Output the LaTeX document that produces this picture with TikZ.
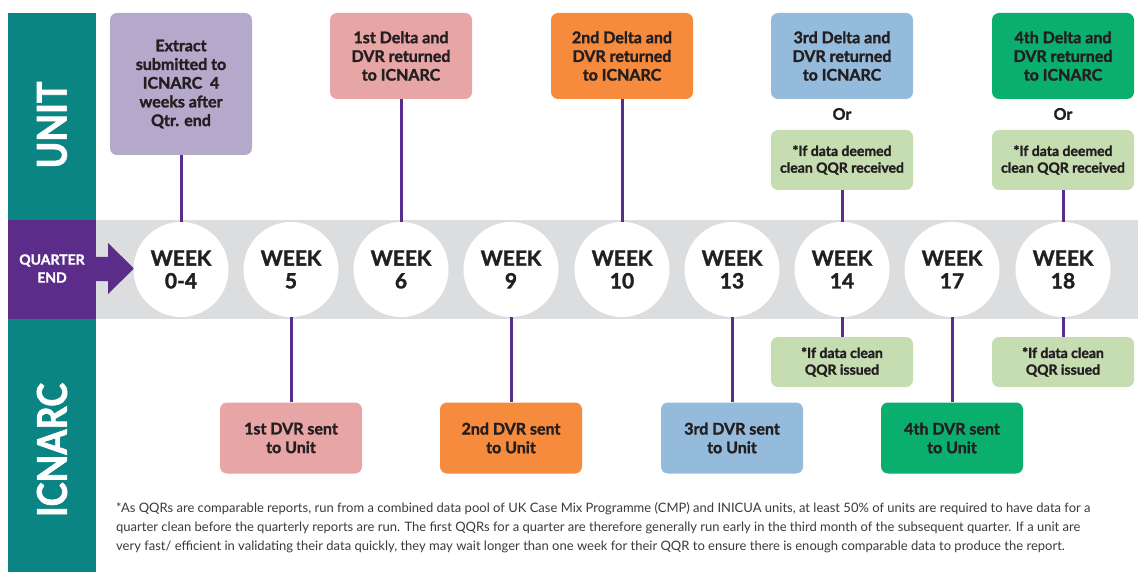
\documentclass[tikz,border=0pt]{standalone}
\usepackage{fontspec}
\setmainfont{Lato}[BoldFeatures={FakeBold=1.6}]
\newfontfamily\footfont{Lato}
\newfontfamily\sidefont[FakeStretch=0.88,BoldFeatures={FakeBold=1.6}]{Lato}
\definecolor{cteal}{HTML}{0A8583}
\definecolor{cpurple}{HTML}{5B2C89}
\definecolor{cgray}{HTML}{DCDDDE}
\definecolor{ctext}{HTML}{231F20}
\definecolor{clav}{HTML}{B4A8CB}
\definecolor{cpink}{HTML}{E8A5A5}
\definecolor{corange}{HTML}{F68B3D}
\definecolor{cblue}{HTML}{94BBDB}
\definecolor{cgreen}{HTML}{0BAF6D}
\definecolor{clgreen}{HTML}{C6DDB1}
\definecolor{cfoot}{HTML}{3A3A3A}
\begin{document}
\begin{tikzpicture}[x=1pt,y=-1pt,
  week/.style={circle,fill=white,minimum size=95pt,inner sep=0pt,align=center,text=ctext,
    font=\bfseries\fontsize{21}{22.7}\selectfont},
  bigbox/.style={rounded corners=7pt,inner sep=0pt,minimum width=142pt,align=center,text=ctext,
    font=\bfseries\fontsize{16}{18.7}\selectfont},
  smallbox/.style={rounded corners=7pt,inner sep=0pt,minimum width=142pt,align=center,text=ctext,fill=clgreen,
    font=\bfseries\fontsize{14}{16.7}\selectfont},
  conn/.style={draw=cpurple,line width=3pt},
  sidelabel/.style={rotate=90,text=white,font=\sidefont\bfseries\fontsize{41}{41}\selectfont},
]
\useasboundingbox (0,0) rectangle (1138,572);
\fill[cteal] (8,13) rectangle (96,572);
\fill[cgray] (96,220) rectangle (1138,319);
\fill[cpurple] (8,220) rectangle (96,319);
\fill[cpurple] (96,257) -- (108,257) -- (108,243) -- (134,268.5) -- (108,294) -- (108,281) -- (96,281) -- cycle;
\node[align=center,text=white,font=\bfseries\fontsize{14}{18}\selectfont] (qe) at (52,268.5) {QUARTER\\END};
\node[sidelabel] (unit) at (52,125) {UNIT};
\node[sidelabel] (icn) at (52,450) {ICNARC};

% week circles
\foreach \x/\n/\t in {181/0/0-4,291/5/5,401/6/6,511/9/9,622/10/10,732/13/13,842/14/14,952/17/17,1063/18/18}
  \node[week] (w\n) at (\x,269.5) {WEEK\\\t};

% top boxes
\node[bigbox,fill=clav,minimum height=142pt] (ext) at (181,84) {Extract\\submitted to\\ICNARC\ \ 4\\weeks after\\Qtr. end};
\node[bigbox,fill=cpink,minimum height=86pt] (d1) at (401,56) {1st Delta and\\DVR returned\\to ICNARC};
\node[bigbox,fill=corange,minimum height=86pt] (d2) at (622,56) {2nd Delta and\\DVR returned\\to ICNARC};
\node[bigbox,fill=cblue,minimum height=86pt] (d3) at (842,56) {3rd Delta and\\DVR returned\\to ICNARC};
\node[bigbox,fill=cgreen,minimum height=86pt] (d4) at (1063,56) {4th Delta and\\DVR returned\\to ICNARC};
\node[text=ctext,font=\bfseries\fontsize{16}{18}\selectfont] (or3) at (842,114) {Or};
\node[text=ctext,font=\bfseries\fontsize{16}{18}\selectfont] (or4) at (1063,114) {Or};
\node[smallbox,minimum height=60pt] (r3) at (842,160) {*If data deemed\\clean QQR received};
\node[smallbox,minimum height=60pt] (r4) at (1063,160) {*If data deemed\\clean QQR received};

% bottom boxes
\node[smallbox,minimum height=50pt] (i3) at (842,362) {*If data clean\\QQR issued};
\node[smallbox,minimum height=50pt] (i4) at (1063,362) {*If data clean\\QQR issued};
\node[bigbox,fill=cpink,minimum height=71pt] (s1) at (291,438) {1st DVR sent\\to Unit};
\node[bigbox,fill=corange,minimum height=71pt] (s2) at (511,438) {2nd DVR sent\\to Unit};
\node[bigbox,fill=cblue,minimum height=71pt] (s3) at (732,438) {3rd DVR sent\\to Unit};
\node[bigbox,fill=cgreen,minimum height=71pt] (s4) at (952,438) {4th DVR sent\\to Unit};

% connectors
\draw[conn] (ext) -- (w0);
\draw[conn] (d1) -- (w6);
\draw[conn] (d2) -- (w10);
\draw[conn] (r3) -- (w14);
\draw[conn] (r4) -- (w18);
\draw[conn] (w5) -- (s1);
\draw[conn] (w9) -- (s2);
\draw[conn] (w13) -- (s3);
\draw[conn] (w17) -- (s4);
\draw[conn] (w14) -- (i3);
\draw[conn] (w18) -- (i4);

% footnote
\node[anchor=west,align=left,inner sep=0pt,text=cfoot,font=\footfont\fontsize{13}{19}\selectfont] (foot) at (116,528)
{*As QQRs are comparable reports, run from a combined data pool of UK Case Mix Programme (CMP) and INICUA units, at least 50\% of units are required to have data for a\\
quarter clean before the quarterly reports are run. The first QQRs for a quarter are therefore generally run early in the third month of the subsequent quarter. If a unit are\\
very fast/ efficient in validating their data quickly, they may wait longer than one week for their QQR to ensure there is enough comparable data to produce the report.};
\end{tikzpicture}
\end{document}
